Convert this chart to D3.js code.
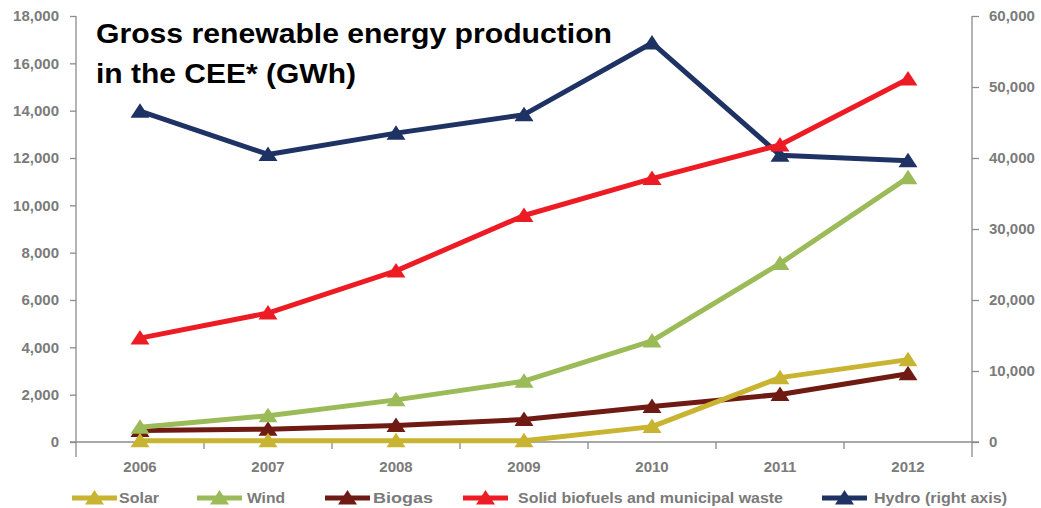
<!DOCTYPE html>
<html>
<head>
<meta charset="utf-8">
<script src="https://cdn.jsdelivr.net/npm/d3@7"></script>
<style>
  html, body { margin: 0; padding: 0; background: #ffffff; }
  svg { display: block; font-family: "Liberation Sans", Arial, Helvetica, sans-serif; }
</style>
</head>
<body>
<svg id="chart" width="1041" height="508"></svg>
<script>
// ---- data ----
const years = ["2006", "2007", "2008", "2009", "2010", "2011", "2012"];
const solar   = [50, 50, 50, 50, 650, 2720, 3480];
const wind    = [620, 1110, 1780, 2570, 4270, 7540, 11170];
const biogas  = [490, 540, 700, 950, 1500, 2010, 2880];
const solid   = [4390, 5450, 7230, 9570, 11130, 12550, 15340];
const hydro   = [46600, 40500, 43500, 46100, 56200, 40400, 39600]; // right axis
const leftTicks  = [0, 2000, 4000, 6000, 8000, 10000, 12000, 14000, 16000, 18000];
const rightTicks = [0, 10000, 20000, 30000, 40000, 50000, 60000];
const seriesNames = ["Solar", "Wind", "Biogas", "Solid biofuels and municipal waste", "Hydro (right axis)"];
const seriesColors = ["#C8B431", "#9BBB59", "#6F1A12", "#ED1C24", "#1F3264"];
const titleLines = ["Gross renewable energy production", "in the CEE* (GWh)"];

(function () {
// ---- layout ----
const svg = d3.select("#chart");
const pL = 76, pR = 972, pT = 16, pB = 442;

const x = d3.scaleBand().domain(years).range([pL, pR]).padding(0);
const yL = d3.scaleLinear().domain([0, 18000]).range([pB, pT]);
const yR = d3.scaleLinear().domain([0, 60000]).range([pB, pT]);
const fmt = d3.format(",");
const axisColor = "#8c8c8c";
const labelColor = "#7b7b7b";

const gL = svg.append("g").attr("transform", `translate(${pL},0)`)
  .call(d3.axisLeft(yL).tickValues(leftTicks).tickFormat(fmt).tickSize(6).tickPadding(11));
const gR = svg.append("g").attr("transform", `translate(${pR},0)`)
  .call(d3.axisRight(yR).tickValues(rightTicks).tickFormat(fmt).tickSize(7).tickPadding(10));
const gX = svg.append("g").attr("transform", `translate(0,${pB})`)
  .call(d3.axisBottom(x).tickSize(0).tickPadding(24.5));

[gL, gR, gX].forEach(g => {
  g.select(".domain").remove();
  g.selectAll("line").attr("stroke", axisColor).attr("stroke-width", 1.3);
  g.selectAll("text").attr("fill", labelColor).attr("font-size", 15).attr("font-weight", "bold")
    .attr("font-family", "'Liberation Sans', Arial, sans-serif");
});
gX.selectAll("text").attr("dy", "0.35em");

svg.append("line").attr("x1", pL).attr("x2", pL).attr("y1", pT).attr("y2", pB + 15)
  .attr("stroke", axisColor).attr("stroke-width", 1.3);
svg.append("line").attr("x1", pR).attr("x2", pR).attr("y1", pT).attr("y2", pB + 15)
  .attr("stroke", axisColor).attr("stroke-width", 1.3);
svg.append("line").attr("x1", pL - 6).attr("x2", pR + 7).attr("y1", pB).attr("y2", pB)
  .attr("stroke", axisColor).attr("stroke-width", 1.3);
svg.selectAll(".xtick").data(years.slice(1)).enter().append("line")
  .attr("x1", d => x(d)).attr("x2", d => x(d))
  .attr("y1", pB).attr("y2", pB + 7)
  .attr("stroke", axisColor).attr("stroke-width", 1.3);

// ---- series ----
const series = [
  { name: seriesNames[0], values: solar,  y: yL, color: seriesColors[0] },
  { name: seriesNames[1], values: wind,   y: yL, color: seriesColors[1] },
  { name: seriesNames[2], values: biogas, y: yL, color: seriesColors[2] },
  { name: seriesNames[3], values: solid,  y: yL, color: seriesColors[3] },
  { name: seriesNames[4], values: hydro,  y: yR, color: seriesColors[4] }
];
const cx = d => x(d) + x.bandwidth() / 2;
const tri = "M0,-8 L9.5,6.5 L-9.5,6.5 Z";

series.slice().reverse().forEach(s => {
  const line = d3.line().x((d, i) => cx(years[i])).y(d => s.y(d));
  svg.append("path").datum(s.values)
    .attr("d", line).attr("fill", "none")
    .attr("stroke", s.color).attr("stroke-width", 5).attr("stroke-linejoin", "round");
  svg.selectAll(null).data(s.values).enter().append("path")
    .attr("d", tri)
    .attr("transform", (d, i) => `translate(${cx(years[i])},${s.y(d)})`)
    .attr("fill", s.color);
});

// ---- title ----
const titleWidths = [516, 260];
svg.append("g").selectAll("text").data(titleLines).enter().append("text")
  .attr("x", 96).attr("y", (d, i) => 43 + i * 40)
  .attr("font-size", 28).attr("font-weight", "bold").attr("fill", "#000")
  .attr("textLength", (d, i) => titleWidths[i]).attr("lengthAdjust", "spacingAndGlyphs")
  .text(d => d);

// ---- legend ----
const legendLineX = [72, 197, 325, 463, 822];
const legendTextX = [119, 247, 373, 518, 874];
const legendWidths = [40, 38, 60, 265, 133];
const legend = svg.append("g");
series.forEach((s, i) => {
  const g = legend.append("g").attr("transform", `translate(0,498)`);
  const x0 = legendLineX[i];
  g.append("line").attr("x1", x0).attr("x2", x0 + 45).attr("y1", 0).attr("y2", 0)
    .attr("stroke", s.color).attr("stroke-width", 5);
  g.append("path").attr("d", tri).attr("transform", `translate(${x0 + 22.5},0)`).attr("fill", s.color);
  g.append("text").attr("x", legendTextX[i]).attr("y", 0).attr("dy", "0.35em")
    .attr("font-size", 15).attr("font-weight", "bold").attr("fill", "#7a7a7a")
    .attr("textLength", legendWidths[i]).attr("lengthAdjust", "spacingAndGlyphs")
    .text(s.name);
});
})();
</script>
</body>
</html>
